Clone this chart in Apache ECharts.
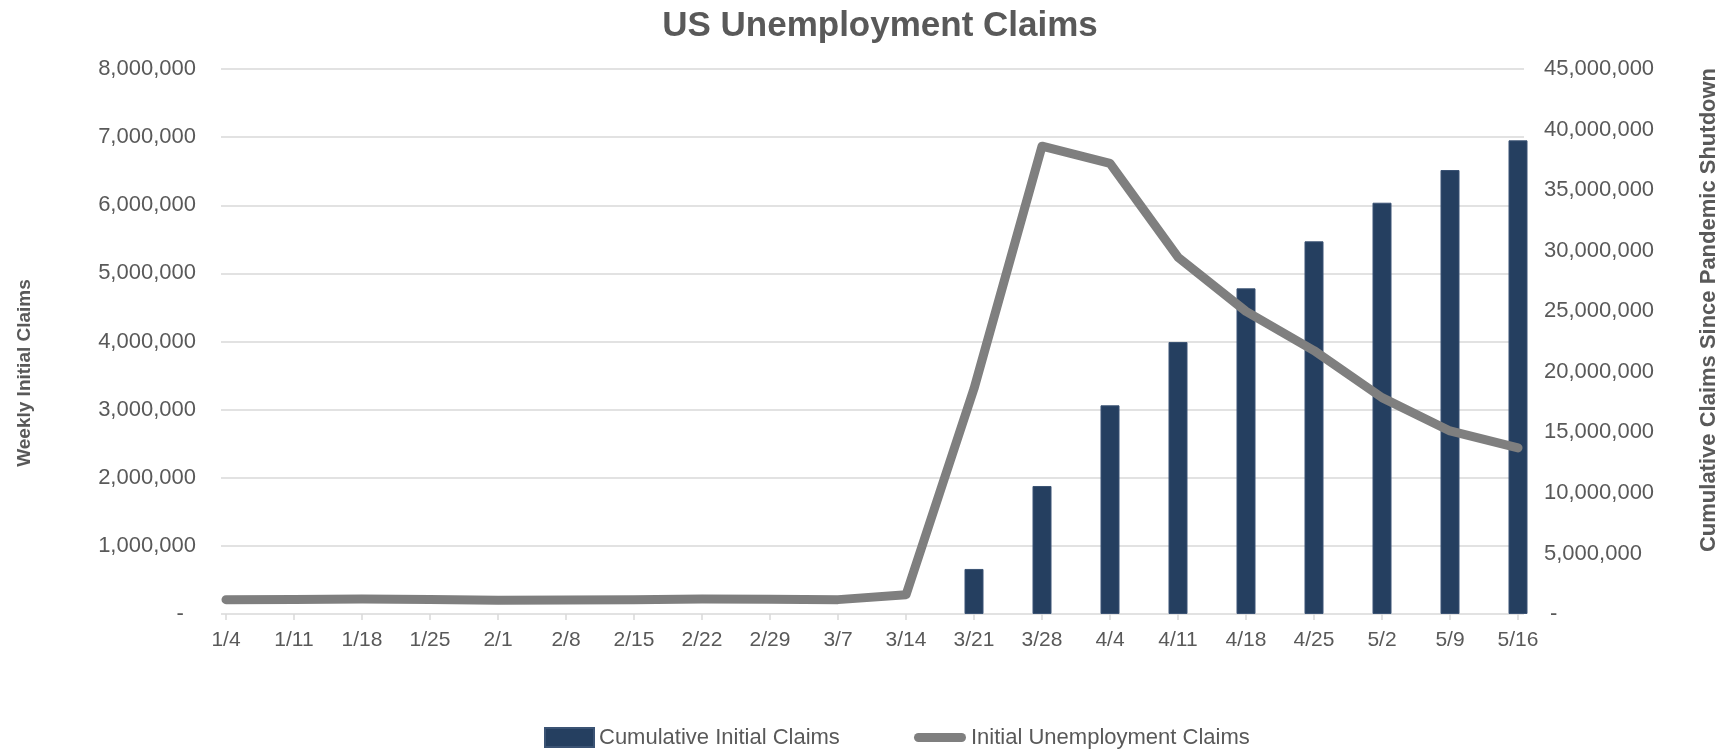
<!DOCTYPE html>
<html>
<head>
<meta charset="utf-8">
<title>US Unemployment Claims</title>
<script src="https://cdn.jsdelivr.net/npm/echarts@6/dist/echarts.min.js"></script>
<style>
  html, body { margin: 0; padding: 0; background: #ffffff; }
  #chart { width: 1731px; height: 751px; }
</style>
</head>
<body>
<div id="chart"></div>
<script>
// Week-ending dates (2020)
const categories = ['1/4', '1/11', '1/18', '1/25', '2/1', '2/8', '2/15', '2/22', '2/29', '3/7',
  '3/14', '3/21', '3/28', '4/4', '4/11', '4/18', '4/25', '5/2', '5/9', '5/16'];

// Weekly initial unemployment claims (left axis)
const weeklyClaims = [211000, 214000, 222000, 212000, 202000, 205000, 211000, 219000, 217000, 211000,
  282000, 3307000, 6867000, 6615000, 5237000, 4442000, 3867000, 3176000, 2687000, 2438000];

// Cumulative initial claims since the shutdown (right axis)
const cumulativeClaims = [null, null, null, null, null, null, null, null, null, null,
  null, 3720000, 10570000, 17230000, 22460000, 26890000, 30770000, 33960000, 36660000, 39110000];

const leftTicks = { min: 0, max: 8000000, step: 1000000 };
const rightTicks = { min: 0, max: 45000000, step: 5000000 };

const FONT = "'Liberation Sans', Arial, Helvetica, sans-serif";
const TEXT = '#595959';
const GRID_LINE = '#d9d9d9';
const BAR = '#253f60';
const LINE = '#7f7f7f';

const fmt = v => v.toLocaleString('en-US');

// thick rounded stroke used as the line series' legend key
const LINE_KEY = 'path://M4.5,0H47.5A4.5,4.5,0,0,1,47.5,9H4.5A4.5,4.5,0,0,1,4.5,0Z';

const chart = echarts.init(document.getElementById('chart'), null, { renderer: 'canvas' });

chart.setOption({
  animation: false,
  backgroundColor: '#ffffff',
  textStyle: { fontFamily: FONT },
  graphic: [
    {
      type: 'text', x: 880, y: 26,
      style: { text: 'US Unemployment Claims', font: `bold 35px ${FONT}`, fill: TEXT,
        textAlign: 'center', textVerticalAlign: 'middle' }
    },
    {
      type: 'text', x: 25, y: 373, rotation: Math.PI / 2,
      style: { text: 'Weekly Initial Claims', font: `bold 19px ${FONT}`, fill: TEXT,
        textAlign: 'center', textVerticalAlign: 'middle' }
    },
    {
      type: 'text', x: 1709, y: 310, rotation: Math.PI / 2,
      style: { text: 'Cumulative Claims Since Pandemic Shutdown', font: `bold 22px ${FONT}`, fill: TEXT,
        textAlign: 'center', textVerticalAlign: 'middle' }
    }
  ],
  legend: [
    {
      data: [{ name: 'Cumulative Initial Claims', icon: 'rect' }],
      left: 544, top: 726.5, padding: 0,
      itemWidth: 49, itemHeight: 19,
      textStyle: { color: TEXT, fontSize: 22, fontFamily: FONT }
    },
    {
      data: [{ name: 'Initial Unemployment Claims', icon: LINE_KEY }],
      left: 914, top: 726.5, padding: 0,
      itemWidth: 52, itemHeight: 9,
      itemStyle: { color: LINE, borderWidth: 0 },
      textStyle: { color: TEXT, fontSize: 22, fontFamily: FONT }
    }
  ],
  grid: [
    // frame carrying the value axes and the horizontal gridlines
    { left: 221, right: 207, top: 69, bottom: 137 },
    // plotting area for the weekly points
    { left: 226, right: 213, top: 69, bottom: 137 }
  ],
  xAxis: [
    { gridIndex: 0, type: 'value', min: 0, max: 1, show: false },
    {
      gridIndex: 1, type: 'category', data: categories, boundaryGap: false,
      axisLine: { show: false },
      axisTick: { show: true, length: 6, lineStyle: { color: GRID_LINE, width: 1.5 } },
      axisLabel: { color: TEXT, fontSize: 21, fontFamily: FONT, margin: 16, interval: 0 }
    }
  ],
  yAxis: [
    {
      gridIndex: 0, type: 'value', position: 'left',
      min: leftTicks.min, max: leftTicks.max, interval: leftTicks.step,
      axisLine: { show: false }, axisTick: { show: false },
      splitLine: { show: true, lineStyle: { color: GRID_LINE, width: 1.5 } },
      axisLabel: {
        color: TEXT, fontSize: 22, fontFamily: FONT, margin: 25,
        formatter: v => v === 0 ? '-\u00a0\u00a0' : fmt(v)
      }
    },
    {
      gridIndex: 0, type: 'value', position: 'right',
      min: rightTicks.min, max: rightTicks.max, interval: rightTicks.step,
      axisLine: { show: false }, axisTick: { show: false }, splitLine: { show: false },
      axisLabel: {
        color: TEXT, fontSize: 22, fontFamily: FONT, margin: 20,
        formatter: v => v === 0 ? '\u00a0-' : fmt(v)
      }
    },
    { gridIndex: 1, type: 'value', min: leftTicks.min, max: leftTicks.max, interval: leftTicks.step, show: false },
    { gridIndex: 1, type: 'value', min: rightTicks.min, max: rightTicks.max, interval: rightTicks.step, show: false }
  ],
  series: [
    {
      name: 'Cumulative Initial Claims', type: 'bar',
      xAxisIndex: 1, yAxisIndex: 3,
      data: cumulativeClaims, barWidth: 19, clip: false,
      itemStyle: { color: BAR, borderColor: '#3b5374', borderWidth: 1 },
      z: 2
    },
    {
      name: 'Initial Unemployment Claims', type: 'line',
      xAxisIndex: 1, yAxisIndex: 2,
      data: weeklyClaims, showSymbol: false, symbol: 'none',
      lineStyle: { color: LINE, width: 9, cap: 'round', join: 'round' },
      itemStyle: { color: LINE },
      z: 3
    }
  ]
});
</script>
</body>
</html>
